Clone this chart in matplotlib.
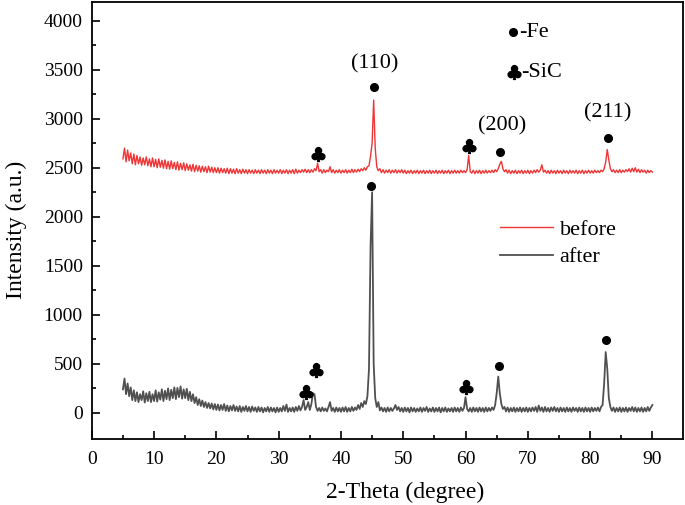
import matplotlib
matplotlib.use("Agg")
import matplotlib.pyplot as plt
import numpy as np

plt.rcParams['font.family'] = ['Liberation Serif', 'DejaVu Sans']
plt.rcParams['mathtext.fontset'] = 'dejavusans'

# scan grid: 5 to 90 degree, 0.25 degree step (341 points)
theta = np.arange(341) * 0.25 + 5

# intensities, one row = 5 degree
before_counts = [
    2590, 2700, 2560, 2680, 2570, 2650, 2540, 2640, 2530, 2625, 2540, 2610, 2525, 2600, 2530, 2610, 2520, 2590, 2510, 2600,
    2510, 2585, 2500, 2590, 2505, 2575, 2495, 2580, 2490, 2565, 2485, 2570, 2490, 2555, 2480, 2560, 2475, 2545, 2480, 2550,
    2470, 2540, 2475, 2530, 2465, 2535, 2460, 2525, 2465, 2520, 2455, 2515, 2460, 2510, 2450, 2515, 2455, 2505, 2450, 2500,
    2450, 2500, 2445, 2495, 2450, 2490, 2445, 2495, 2440, 2490, 2445, 2485, 2440, 2490, 2445, 2480, 2440, 2485, 2445, 2480,
    2440, 2480, 2445, 2475, 2440, 2480, 2445, 2475, 2440, 2480, 2445, 2475, 2440, 2480, 2445, 2475, 2440, 2480, 2445, 2475,
    2445, 2480, 2440, 2475, 2445, 2480, 2440, 2475, 2445, 2480, 2440, 2485, 2445, 2475, 2450, 2480, 2455, 2485, 2450, 2480,
    2450, 2480, 2455, 2490, 2470, 2545, 2460, 2480, 2445, 2480, 2450, 2475, 2460, 2510, 2450, 2480, 2445, 2475, 2450, 2480,
    2445, 2475, 2450, 2480, 2445, 2475, 2450, 2485, 2450, 2480, 2455, 2485, 2460, 2490, 2470, 2500, 2475, 2510, 2520, 2620,
    2750, 3190, 2700, 2510, 2470, 2490, 2450, 2480, 2445, 2475, 2450, 2480, 2445, 2475, 2450, 2480, 2445, 2475, 2450, 2480,
    2445, 2475, 2440, 2470, 2445, 2475, 2440, 2470, 2445, 2475, 2440, 2470, 2445, 2475, 2440, 2470, 2445, 2475, 2440, 2470,
    2445, 2475, 2440, 2470, 2445, 2475, 2440, 2470, 2445, 2475, 2440, 2470, 2445, 2475, 2445, 2470, 2445, 2475, 2450, 2470,
    2450, 2480, 2625, 2460, 2445, 2475, 2440, 2470, 2445, 2475, 2440, 2470, 2445, 2475, 2445, 2470, 2450, 2475, 2450, 2480,
    2460, 2490, 2535, 2565, 2490, 2460, 2480, 2445, 2475, 2440, 2470, 2445, 2475, 2440, 2470, 2445, 2475, 2440, 2470, 2445,
    2475, 2440, 2470, 2445, 2475, 2450, 2480, 2455, 2475, 2530, 2455, 2475, 2445, 2470, 2440, 2475, 2445, 2470, 2440, 2475,
    2445, 2470, 2440, 2475, 2445, 2470, 2440, 2475, 2445, 2470, 2445, 2475, 2440, 2470, 2445, 2475, 2440, 2470, 2445, 2475,
    2445, 2470, 2445, 2475, 2450, 2470, 2450, 2475, 2460, 2490, 2560, 2685, 2580, 2490, 2460, 2480, 2450, 2475, 2450, 2480,
    2450, 2475, 2455, 2480, 2460, 2490, 2455, 2495, 2460, 2500, 2455, 2485, 2450, 2480, 2455, 2475, 2445, 2475, 2450, 2470,
    2455]

after_counts = [
    240, 350, 190, 300, 170, 260, 130, 230, 120, 210, 110, 190, 130, 220, 105, 200, 120, 215, 110, 190,
    120, 230, 115, 210, 135, 240, 120, 225, 140, 250, 130, 235, 150, 260, 140, 255, 160, 270, 145, 240,
    150, 245, 130, 215, 120, 190, 100, 160, 80, 140, 70, 125, 60, 110, 50, 100, 45, 95, 35, 90,
    30, 85, 25, 80, 30, 90, 20, 75, 15, 70, 25, 80, 20, 65, 15, 70, 10, 60, 20, 70,
    15, 60, 10, 65, 20, 55, 10, 60, 15, 55, 5, 50, 15, 60, 10, 55, 15, 50, 5, 55,
    10, 50, 15, 70, 20, 85, 10, 50, 15, 55, 10, 60, 20, 70, 25, 60, 130, 30, 60, 110,
    30, 90, 200, 190, 60, 20, 50, 15, 55, 20, 45, 15, 60, 110, 20, 50, 10, 55, 15, 50,
    10, 55, 15, 60, 10, 50, 15, 60, 20, 55, 30, 80, 40, 100, 60, 120, 90, 170, 450, 1700,
    2250, 500, 150, 60, 110, 25, 55, 15, 50, 10, 55, 15, 50, 20, 45, 80, 30, 60, 15, 50,
    10, 55, 15, 50, 5, 55, 15, 50, 10, 45, 15, 55, 10, 50, 20, 60, 10, 45, 15, 55,
    10, 50, 15, 55, 5, 50, 15, 55, 10, 45, 15, 50, 10, 55, 15, 50, 10, 55, 20, 50,
    160, 40, 15, 50, 10, 55, 15, 50, 10, 55, 15, 50, 10, 55, 15, 50, 20, 55, 30, 80,
    200, 370, 200, 90, 40, 60, 15, 55, 10, 50, 15, 55, 10, 50, 15, 55, 10, 50, 15, 55,
    10, 50, 15, 55, 20, 60, 10, 75, 20, 55, 10, 60, 15, 50, 10, 55, 20, 60, 15, 50,
    10, 55, 15, 50, 10, 55, 15, 50, 10, 55, 20, 50, 10, 55, 15, 50, 10, 55, 15, 50,
    10, 55, 15, 50, 20, 55, 15, 60, 80, 300, 620, 450, 150, 60, 20, 55, 10, 50, 15, 55,
    10, 50, 15, 55, 10, 50, 20, 60, 15, 55, 10, 50, 15, 55, 10, 50, 15, 60, 20, 55,
    80]

# peak markers
fe_theta = [45.3, 65.6, 82.8, 44.9, 65.3, 82.6]
fe_level = [3320, 2656, 2806, 2310, 480, 745]
sic_theta = [36.3, 60.5, 34.4, 36.0, 60.1]
sic_level = [2643, 2717, 217, 439, 265]

# Miller indices
hkl_labels = ['(110)', '(200)', '(211)']
hkl_theta = [45.4, 65.8, 82.8]
hkl_level = [3561, 2928, 3064]

fig = plt.figure(figsize=(6.85, 5.05), dpi=100)
ax = fig.add_axes([0.134, 0.131, 0.863, 0.865])

ax.plot(theta, before_counts, color='#ef3535', lw=1.0, label='before')
ax.plot(theta, after_counts, color='#505050', lw=1.3, label='after')

ax.plot(fe_theta, fe_level, 'o', color='black', ms=5.5, ls='none')
ax.plot(sic_theta, sic_level, marker=r'$\clubsuit$', color='black', ms=10, ls='none')

for lab, xx, yy in zip(hkl_labels, hkl_theta, hkl_level):
    ax.text(xx, yy, lab, ha='center', va='center', fontsize=16)

# phase key
ax.plot([67.6], [3884], 'o', color='black', ms=5.5)
ax.text(68.6, 3884, '-Fe', va='center', fontsize=16)
ax.plot([67.7], [3472], marker=r'$\clubsuit$', color='black', ms=10)
ax.text(69.0, 3472, '-SiC', va='center', fontsize=16)

ax.set_xlim(0, 94.9)
ax.set_ylim(-265, 4190)
ax.set_xticks(range(0, 91, 10))
ax.set_xticks(range(5, 91, 10), minor=True)
ax.set_yticks(range(0, 4001, 500))
ax.set_yticks(range(250, 4001, 500), minor=True)
ax.tick_params(which='both', direction='in', labelsize=14, top=False, right=False)
ax.tick_params(which='major', length=6, width=1.2)
ax.tick_params(which='minor', length=3, width=1.2)
ax.tick_params(axis='x', which='both', pad=8.5)
ax.tick_params(axis='y', which='both', pad=6.5)
for s in ax.spines.values():
    s.set_linewidth(1.3)

ax.set_xlabel('2-Theta (degree)', fontsize=17)
ax.set_ylabel('Intensity (a.u.)', fontsize=17)
ax.xaxis.set_label_coords(0.53, -0.098)
ax.yaxis.set_label_coords(-0.11, 0.478)

ax.legend(loc='center left', bbox_to_anchor=(0.69, 0.447), frameon=False,
          fontsize=16, handlelength=2.4, handletextpad=0.3, labelspacing=0.3,
          borderpad=0, borderaxespad=0)

fig.savefig('out.png', dpi=100)
